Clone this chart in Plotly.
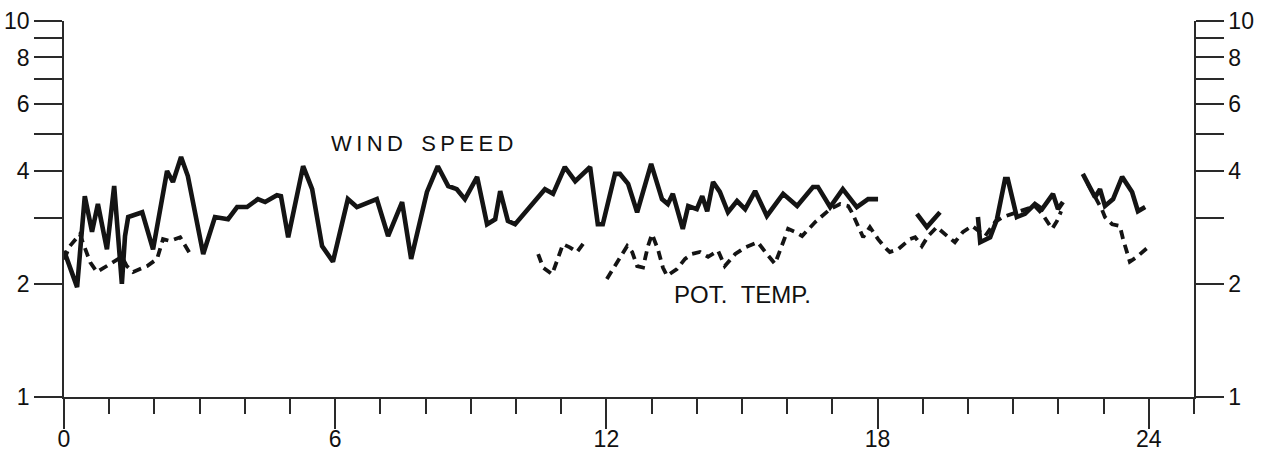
import numpy as np
import plotly.graph_objects as go

# ---- data (hours, value); None breaks a line ----
wind_hours = [0.00, 0.29, 0.46, 0.62, 0.75, 0.95, 1.11, 1.28, 1.35, 1.42, 1.73, 1.97, 2.28, 2.41, 2.59,
              2.74, 3.08, 3.34, 3.63, 3.83, 4.05, 4.29, 4.45, 4.71, 4.80, 4.96, 5.29, 5.49, 5.71, 5.95,
              6.28, 6.48, 6.92, 7.17, 7.48, 7.68, 8.03, 8.27, 8.50, 8.69, 8.87, 9.14, 9.36, 9.54, 9.65,
              9.82, 9.98, 10.64, 10.82, 11.08, 11.31, 11.64, 11.81, 11.92, 12.19, 12.30, 12.48, 12.68,
              12.99, 13.23, 13.36, 13.47, 13.69, 13.81, 14.00, 14.12, 14.23, 14.36, 14.51, 14.69, 14.89,
              15.07, 15.29, 15.55, 15.91, 16.22, 16.57, 16.68, 16.95, 17.23, 17.54, 17.79, 18.01,
              None,
              18.87, 19.09, 19.38,
              None,
              20.22, 20.27, 20.49, 20.64, 20.82, 20.88, 21.08, 21.26, 21.48, 21.64, 21.88, 21.99, 22.10,
              None,
              22.54, 22.81, 22.92, 23.03, 23.21, 23.41, 23.63, 23.76, 23.92]
wind_speed = [2.45, 1.96, 3.42, 2.75, 3.26, 2.47, 3.64, 2.00, 2.68, 3.01, 3.10, 2.47, 3.99, 3.73, 4.35,
              3.87, 2.40, 3.01, 2.97, 3.20, 3.20, 3.36, 3.30, 3.44, 3.42, 2.66, 4.11, 3.57, 2.52, 2.29,
              3.36, 3.20, 3.36, 2.68, 3.30, 2.33, 3.51, 4.11, 3.64, 3.57, 3.36, 3.85, 2.88, 2.97, 3.53,
              2.94, 2.88, 3.57, 3.47, 4.09, 3.75, 4.09, 2.88, 2.88, 3.92, 3.92, 3.69, 3.10,
              4.17, 3.36, 3.26, 3.47, 2.80, 3.22, 3.16, 3.42, 3.12, 3.73, 3.51, 3.10, 3.32,
              3.16, 3.53, 3.03, 3.47, 3.22, 3.62, 3.62, 3.20, 3.57, 3.20, 3.36, 3.36,
              None,
              3.07, 2.83, 3.10,
              None,
              3.01, 2.58, 2.66, 2.97, 3.80, 3.80, 3.01, 3.07, 3.26, 3.16, 3.47, 3.16, 3.30,
              None,
              3.92, 3.40, 3.57, 3.22, 3.36, 3.85, 3.51, 3.12, 3.20]

temp_hours = [0.00, 0.13, 0.35, 0.46, 0.58, 0.73, 1.02, 1.28, 1.39, 1.53, 1.84, 2.06, 2.19, 2.35, 2.57, 2.83,
              None,
              10.49, 10.60, 10.80, 10.91, 11.04, 11.19, 11.35, 11.53,
              None,
              12.01, 12.23, 12.46, 12.57, 12.68, 12.81, 12.92, 13.01, 13.14, 13.25, 13.34, 13.56, 13.74,
              13.89, 14.07, 14.25, 14.47, 14.62, 14.85, 15.07, 15.35, 15.55, 15.73, 15.91, 16.02, 16.17,
              16.33, 16.62, 16.77, 16.95, 17.17, 17.35, 17.43, 17.54, 17.68, 17.83, 18.01, 18.16, 18.27,
              18.45, 18.72, 18.83, 18.98, 19.12, 19.31, 19.54, 19.71, 19.89, 20.09, 20.38, 20.60, 20.77,
              20.97, 21.19, 21.48, 21.64, 21.75, 21.86, 21.97, 22.06,
              None,
              22.65, 22.81, 22.96, 23.03, 23.19, 23.36, 23.43, 23.58, 23.74, 23.98]
pot_temp = [2.32, 2.52, 2.71, 2.50, 2.28, 2.15, 2.26, 2.36, 2.23, 2.15, 2.23, 2.33, 2.63, 2.60, 2.66, 2.36,
            None,
            2.40, 2.21, 2.12, 2.30, 2.55, 2.50, 2.43, 2.60,
            None,
            2.06, 2.28, 2.52, 2.43, 2.23, 2.21, 2.52, 2.71, 2.47, 2.21, 2.10, 2.19, 2.33,
            2.40, 2.43, 2.36, 2.45, 2.23, 2.40, 2.50, 2.58, 2.40, 2.26, 2.58, 2.80, 2.75,
            2.68, 2.92, 3.03, 3.16, 3.26, 3.22, 3.10, 2.88, 2.66, 2.83, 2.63, 2.50, 2.43,
            2.47, 2.63, 2.66, 2.52, 2.68, 2.83, 2.68, 2.58, 2.75, 2.85, 2.68, 2.92, 3.01,
            3.07, 3.12, 3.22, 3.07, 2.94, 2.80, 2.94, 3.12,
            None,
            3.69, 3.40, 3.16, 3.01, 2.88, 2.85, 2.63, 2.29, 2.36, 2.50]

x_major = [0, 6, 12, 18, 24]
x_minor = [h for h in range(0, 26) if h not in x_major]
y_ticks = [1, 2, 3, 4, 5, 6, 7, 8, 9, 10]
y_labels = ["1", "2", "", "4", "", "6", "", "8", "", "10"]

labels = [("W\u2009I\u2009N\u2009D\u00a0\u00a0\u00a0S\u2009P\u2009E\u2009E\u2009D", 7.92, 4.71, 22),
          ("POT.\u00a0\u00a0TEMP.", 15.0, 1.87, 24)]

INK = "#141414"
AXC = "#2a2a2a"
FONT = "Liberation Sans, Arial, sans-serif"

fig = go.Figure()
fig.add_trace(go.Scatter(x=wind_hours, y=wind_speed, mode="lines", connectgaps=False,
                         line=dict(color=INK, width=4.6), showlegend=False, hoverinfo="skip"))
fig.add_trace(go.Scatter(x=temp_hours, y=pot_temp, mode="lines", connectgaps=False, yaxis="y2",
                         line=dict(color=INK, width=3.8, dash="9px,6px"), showlegend=False,
                         hoverinfo="skip"))

yax = dict(type="log", range=[0, 1], tickmode="array", tickvals=y_ticks, ticktext=y_labels,
           ticks="outside", ticklen=28, tickwidth=1.5, tickcolor=AXC, showline=True,
           linecolor=AXC, linewidth=1.5, showgrid=False, zeroline=False, automargin=False,
           tickfont=dict(family=FONT, size=23, color="#111"))

fig.update_layout(
    width=1265, height=456,
    margin=dict(l=64, r=71, t=21, b=59, autoexpand=False),
    paper_bgcolor="white", plot_bgcolor="white",
    xaxis=dict(range=[0, 25], tickmode="array", tickvals=x_major, ticktext=[str(v) for v in x_major],
               ticks="outside", ticklen=30, tickwidth=1.5, tickcolor=AXC, automargin=False,
               ticklabelstandoff=-9,
               minor=dict(tickmode="array", tickvals=x_minor, ticks="outside", ticklen=15,
                          tickwidth=1.5, tickcolor=AXC, showgrid=False),
               showline=True, linecolor=AXC, linewidth=1.5, showgrid=False, zeroline=False,
               tickfont=dict(family=FONT, size=23, color="#111")),
    yaxis=yax,
    yaxis2=dict(yax, overlaying="y", side="right", anchor="x"),
)

for text, hx, val, fs in labels:
    fig.add_annotation(x=hx, y=float(np.log10(val)), xref="x", yref="y", text=text,
                       showarrow=False, font=dict(family=FONT, size=fs, color="#111"))

fig.write_html("out.html")
